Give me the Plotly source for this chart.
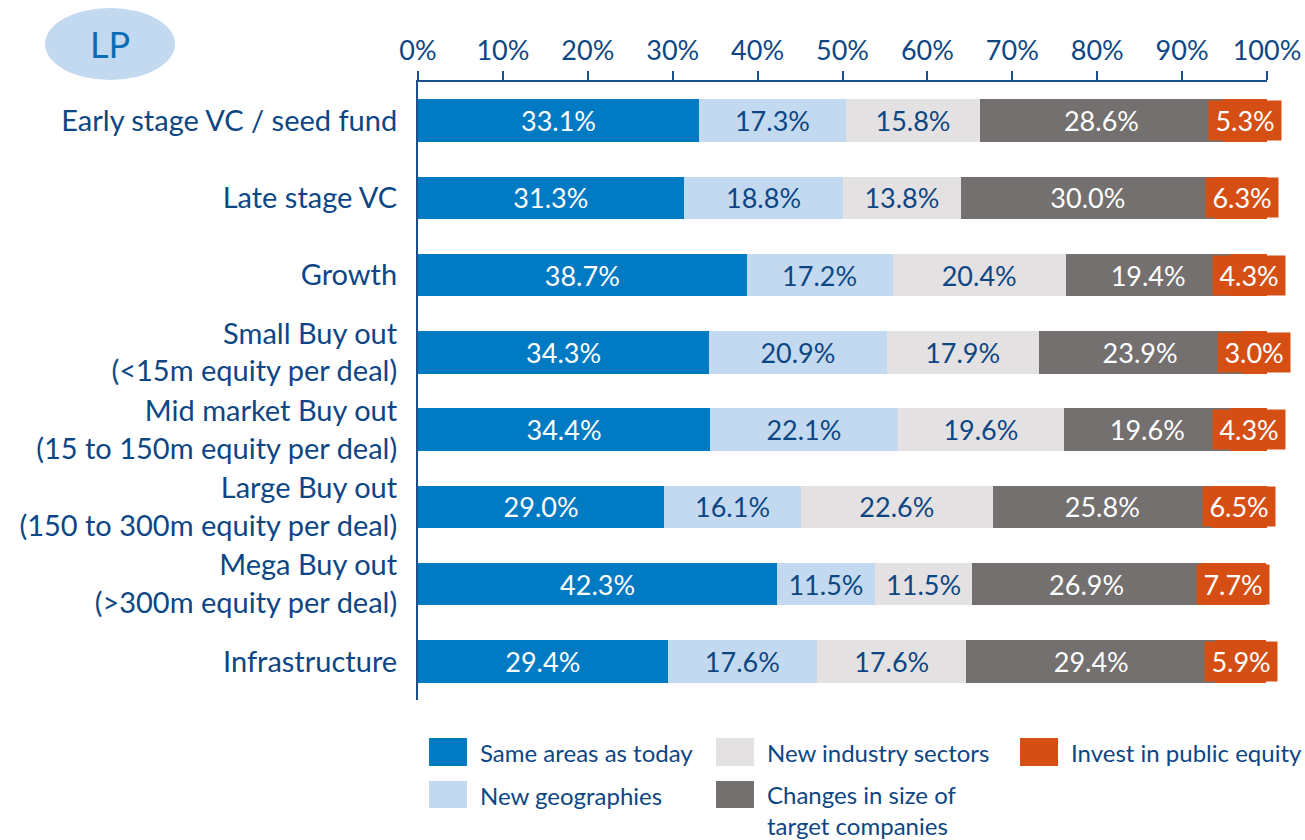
import plotly.graph_objects as go

# Fund strategies (top to bottom) and share of respondents per expansion route
categories = [
    "Early stage VC / seed fund",
    "Late stage VC",
    "Growth",
    "Small Buy out<br>(<15m equity per deal)",
    "Mid market Buy out<br>(15 to 150m equity per deal)",
    "Large Buy out<br>(150 to 300m equity per deal)",
    "Mega Buy out<br>(>300m equity per deal)",
    "Infrastructure",
]
same_areas = [33.1, 31.3, 38.7, 34.3, 34.4, 29.0, 42.3, 29.4]
new_geographies = [17.3, 18.8, 17.2, 20.9, 22.1, 16.1, 11.5, 17.6]
new_sectors = [15.8, 13.8, 20.4, 17.9, 19.6, 22.6, 11.5, 17.6]
size_changes = [28.6, 30.0, 19.4, 23.9, 19.6, 25.8, 26.9, 29.4]
public_equity = [5.3, 6.3, 4.3, 3.0, 4.3, 6.5, 7.7, 5.9]

x_ticks = [0, 10, 20, 30, 40, 50, 60, 70, 80, 90, 100]
x_tick_labels = [f"{t}%" for t in x_ticks]

NAVY = "#0d4684"
AXIS = "#1d4f8c"
FONT = "Lato"
LABEL_SIZE = 27

series = [
    ("Same areas as today", same_areas, "#007ac2", "white"),
    ("New geographies", new_geographies, "#c3d9ef", NAVY),
    ("New industry sectors", new_sectors, "#e3e1e1", NAVY),
    ("Changes in size of<br>target companies", size_changes, "#74706f", "white"),
    ("Invest in public equity", public_equity, "#d54f15", "white"),
]

fig = go.Figure()
for i, (name, vals, color, tcolor) in enumerate(series):
    is_last = i == len(series) - 1
    fig.add_trace(go.Bar(
        y=categories, x=vals, orientation="h", name=name,
        marker=dict(color=color, line=dict(width=0)),
        width=0.55,
        text=None if is_last else [f"{v:.1f}%" for v in vals],
        textposition="inside", insidetextanchor="middle",
        textfont=dict(family=FONT, size=LABEL_SIZE, color=tcolor),
        cliponaxis=False, showlegend=False,
    ))

# Labels for the public-equity segment sit in solid boxes centred on the segment
annotations = []
for j, cat in enumerate(categories):
    start = same_areas[j] + new_geographies[j] + new_sectors[j] + size_changes[j]
    annotations.append(dict(
        x=start + public_equity[j] / 2, y=cat, xref="x", yref="y",
        text=f"\u2009{public_equity[j]:.1f}%\u2009", showarrow=False,
        xanchor="center", yanchor="middle",
        font=dict(family=FONT, size=LABEL_SIZE, color="white"),
        bgcolor="#d54f15", borderpad=3,
    ))

# Pixel helpers for paper-coordinate decorations
L, R, T, B = 418, 1267, 82, 700
def px(xp):
    return (xp - L) / (R - L)
def py(yp):
    return (B - yp) / (B - T)

shapes = []
# Legend keys
legend_items = [
    (0, 429, 738, 766, 478, 752),
    (1, 429, 781, 808, 478, 795),
    (2, 716, 738, 766, 765, 752),
    (3, 716, 781, 808, 765, 795),
    (4, 1020, 738, 766, 1069, 752),
]
for idx, x0, y0, y1, tx, ty in legend_items:
    name, _, color, _ = series[idx]
    shapes.append(dict(type="rect", xref="paper", yref="paper",
                       x0=px(x0), x1=px(x0 + 38), y0=py(y1), y1=py(y0),
                       fillcolor=color, line=dict(width=0)))
    two_line = "<br>" in name
    annotations.append(dict(
        x=px(tx), y=py(ty - 17) if two_line else py(ty),
        xref="paper", yref="paper",
        text=name, showarrow=False, xanchor="left",
        yanchor="top" if two_line else "middle",
        align="left",
        font=dict(family=FONT, size=24, color=NAVY),
    ))

# "LP" badge
shapes.append(dict(type="circle", xref="paper", yref="paper",
                   x0=px(45), x1=px(175), y0=py(80), y1=py(8),
                   fillcolor="#c3d9ef", line=dict(width=0), layer="below"))
annotations.append(dict(x=px(110), y=py(44), xref="paper", yref="paper",
                        text="LP", showarrow=False,
                        xanchor="center", yanchor="middle",
                        font=dict(family=FONT, size=36, color="#0a6db5")))

fig.update_layout(
    width=1305, height=840,
    margin=dict(l=L, r=1305 - R, t=T, b=840 - B),
    barmode="stack", bargap=0.45,
    plot_bgcolor="white", paper_bgcolor="white",
    font=dict(family=FONT, color=NAVY),
    uniformtext=dict(mode="show", minsize=LABEL_SIZE),
    shapes=shapes, annotations=annotations,
    xaxis=dict(
        side="top", range=[0, 100], tickvals=x_ticks, ticktext=x_tick_labels,
        ticks="outside", ticklen=9, tickwidth=2, tickcolor=AXIS,
        showline=True, linecolor=AXIS, linewidth=2, showgrid=False, zeroline=False,
        tickfont=dict(family=FONT, size=27, color=NAVY), automargin=False,
    ),
    yaxis=dict(
        autorange=False, range=[7.5, -0.5], categoryorder="array",
        categoryarray=categories,
        showline=True, linecolor=AXIS, linewidth=2, showgrid=False,
        ticks="", ticklabelstandoff=13, automargin=False,
        tickfont=dict(family=FONT, size=29, color=NAVY),
    ),
)

fig.write_html("out.html")
